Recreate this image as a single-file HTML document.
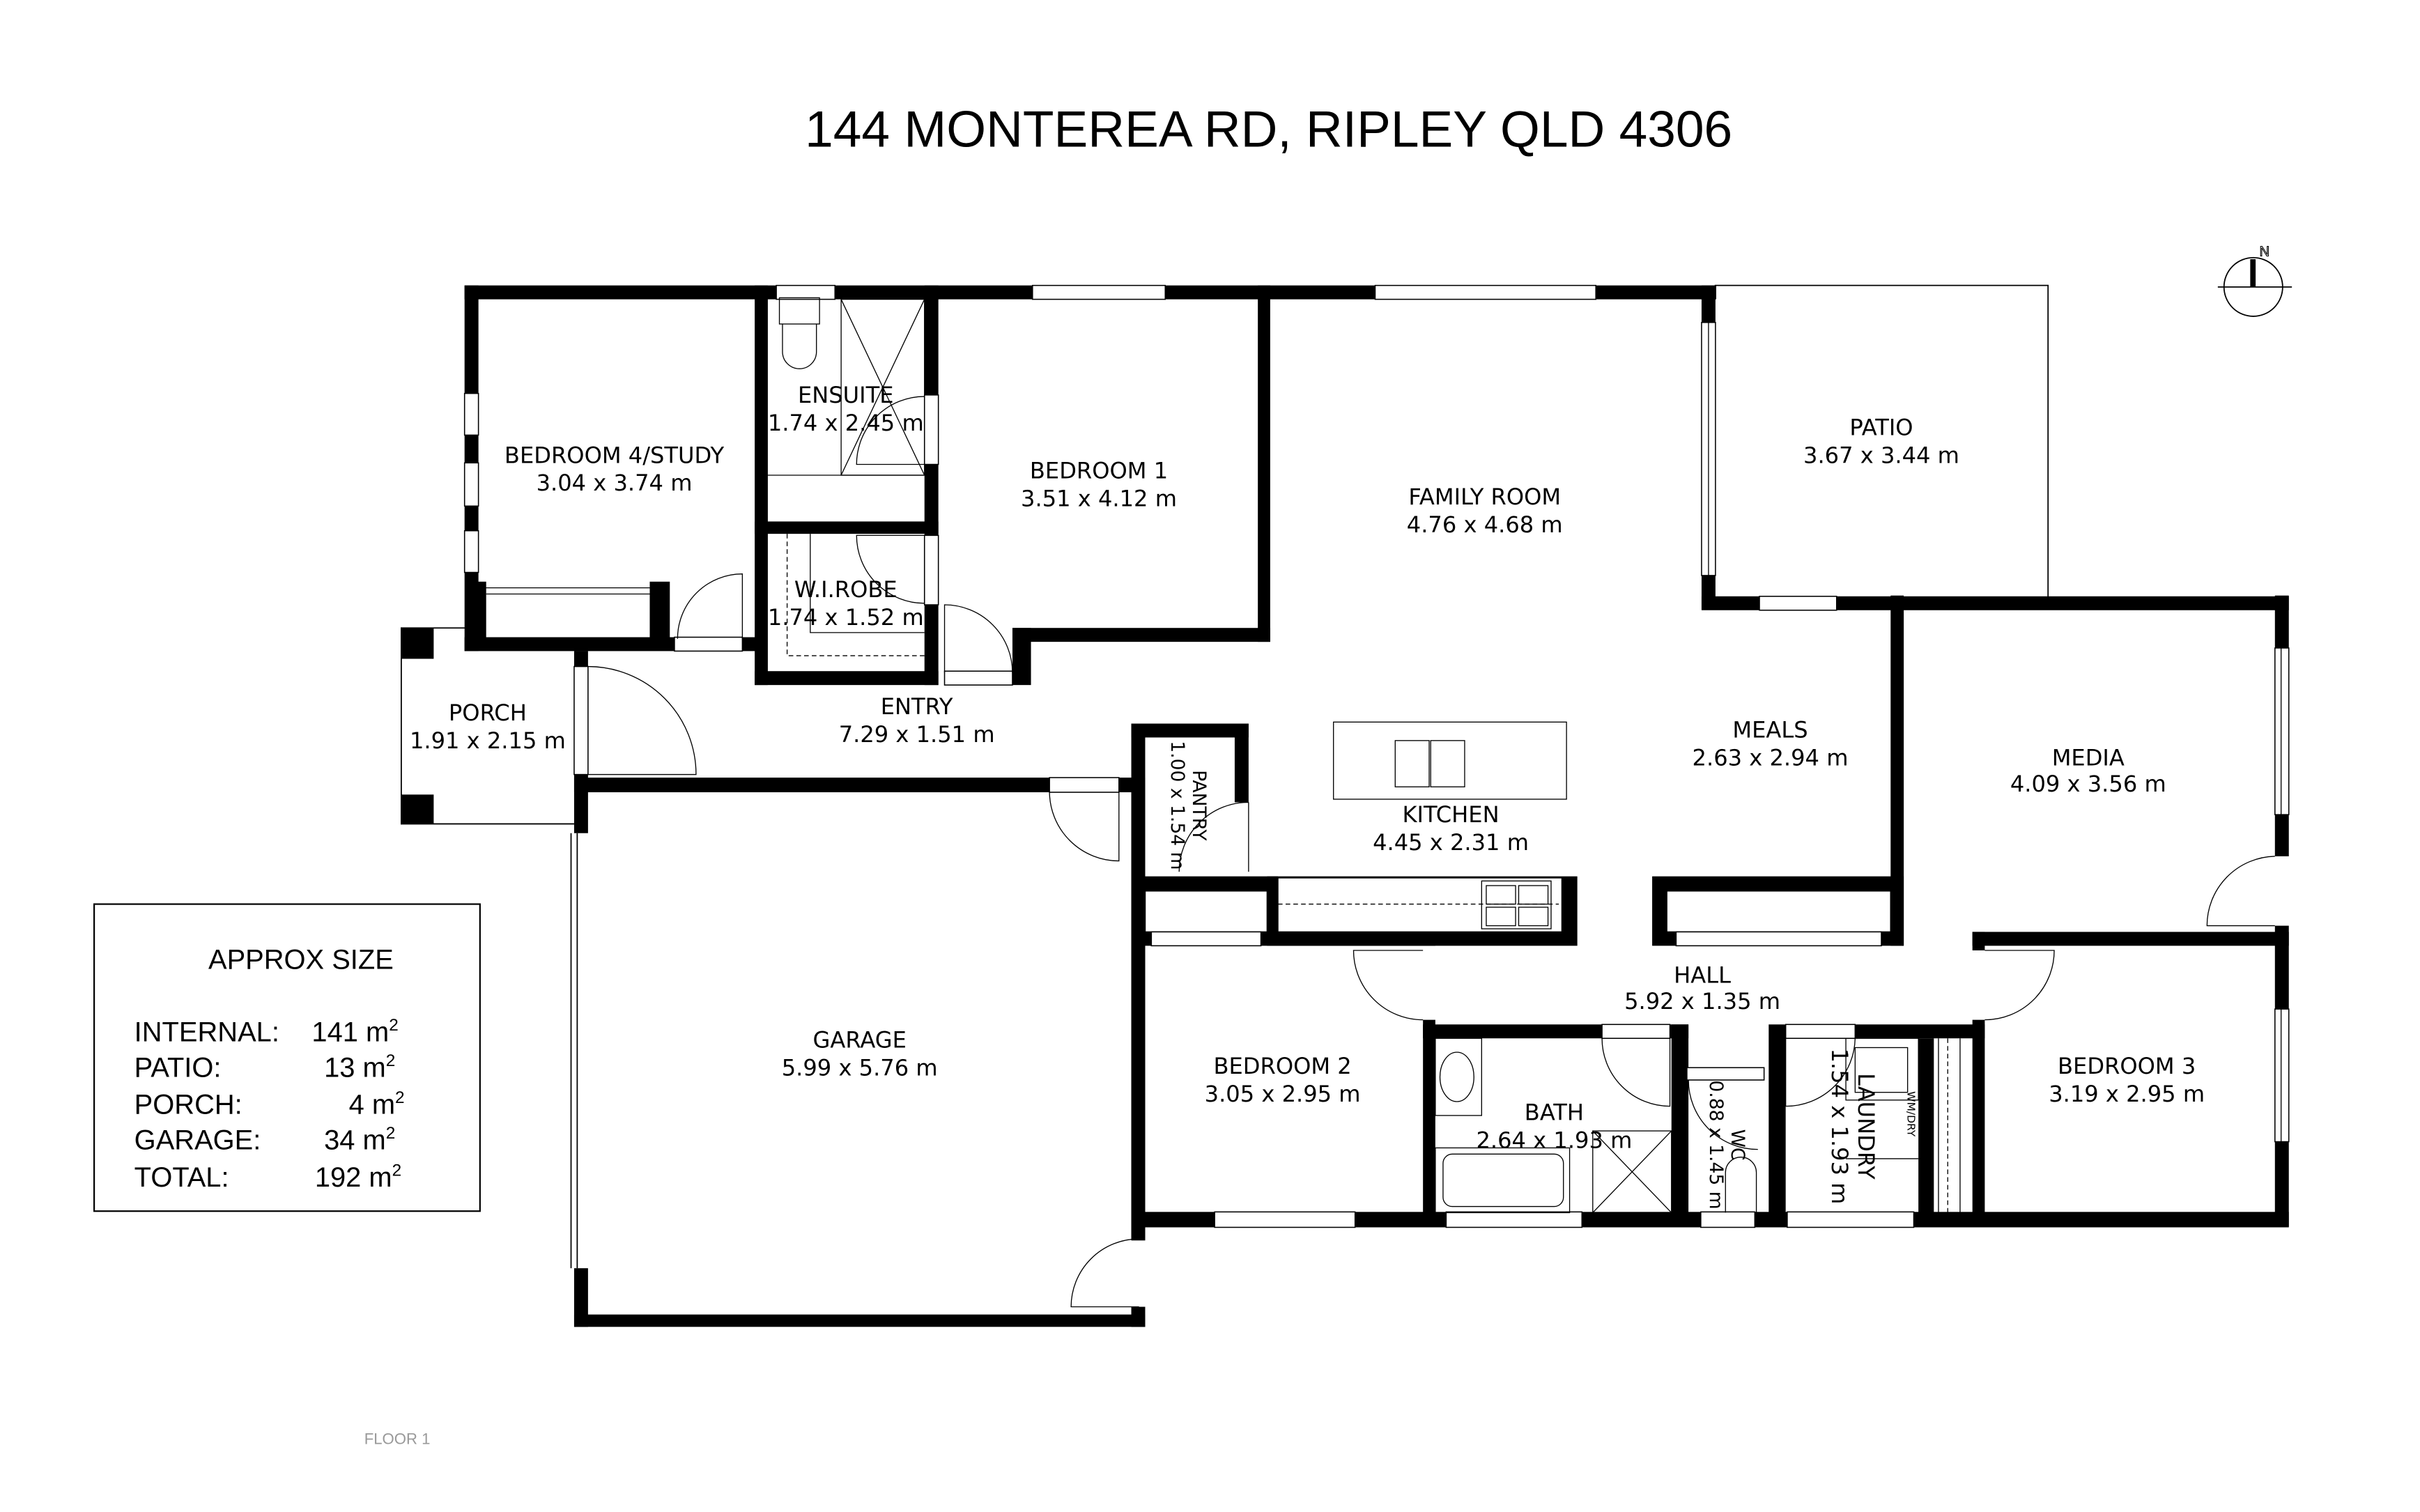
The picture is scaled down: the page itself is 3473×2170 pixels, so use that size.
<!DOCTYPE html>
<html><head><meta charset="utf-8"><style>
html,body{margin:0;padding:0;background:#fff}
svg{display:block}
.l{font-family:"DejaVu Sans","Liberation Sans",sans-serif;font-size:14.5px;fill:#000;text-anchor:middle}
.t{font-family:"Liberation Sans",sans-serif;fill:#000}
</style></head><body>
<svg xmlns="http://www.w3.org/2000/svg" width="3473" height="2170" viewBox="0 0 1568 980" preserveAspectRatio="none">
<rect width="1568" height="980" fill="#fff"/>
<text x="822" y="95" class="t" style="font-size:33px" text-anchor="middle">144 MONTEREA RD, RIPLEY QLD 4306</text>

<!-- compass -->
<g stroke="#000" fill="none" stroke-width="0.8">
<circle cx="1460" cy="186" r="19"/>
<line x1="1437" y1="186" x2="1485" y2="186"/>
</g>
<rect x="1458" y="168" width="3.5" height="18" fill="#000"/>
<text x="1464" y="166" style="font-family:'Liberation Sans',sans-serif;font-size:9px" fill="none" stroke="#000" stroke-width="0.5">N</text>

<g fill="none" stroke="#000" stroke-width="0.8">
<polyline points="1111,185 1327,185 1327,387"/>
<polyline points="302,407 260,407 260,534 372,534"/>
<line x1="370" y1="540" x2="370" y2="822"/>
<line x1="374" y1="540" x2="374" y2="822"/>
</g>

<g fill="#000">
<rect x="301" y="185" width="811" height="9"/>
<rect x="301" y="185" width="9" height="237"/>
<rect x="309" y="377" width="6" height="37"/>
<rect x="421" y="377" width="13" height="37"/>
<rect x="301" y="413" width="136" height="9"/>
<rect x="481" y="413" width="16" height="9"/>
<rect x="489" y="185" width="8.5" height="259"/>
<rect x="599" y="185" width="9" height="71"/>
<rect x="599" y="301" width="9" height="46"/>
<rect x="599" y="392" width="9" height="52"/>
<rect x="489" y="338" width="119" height="8"/>
<rect x="489" y="435" width="119" height="9"/>
<rect x="656" y="407" width="12" height="37"/>
<rect x="656" y="407" width="167" height="9"/>
<rect x="815" y="185" width="8" height="231"/>
<rect x="1102.5" y="185" width="9" height="24"/>
<rect x="1102.5" y="373" width="9" height="22"/>
<rect x="1102.5" y="386.5" width="38" height="9"/>
<rect x="1190" y="386.5" width="293" height="9"/>
<rect x="1225" y="386" width="8.5" height="227"/>
<rect x="1474" y="386" width="9" height="34"/>
<rect x="1474" y="528" width="9" height="27"/>
<rect x="1474" y="600" width="9" height="54"/>
<rect x="1474" y="740" width="9" height="55"/>
<rect x="1278" y="604" width="205" height="9"/>
<rect x="1070.5" y="568" width="163" height="45"/>
<rect x="1278" y="604" width="8" height="12"/>
<rect x="1278" y="661" width="8" height="134"/>
<rect x="733" y="785.5" width="54" height="10"/>
<rect x="878" y="785.5" width="59" height="10"/>
<rect x="1025" y="785.5" width="77" height="10"/>
<rect x="1137" y="785.5" width="21" height="10"/>
<rect x="1240" y="785.5" width="243" height="10"/>
<rect x="922" y="661" width="8" height="134"/>
<rect x="922" y="664" width="116" height="9"/>
<rect x="1082" y="664" width="12" height="9"/>
<rect x="1083" y="664" width="11" height="131"/>
<rect x="1146" y="664" width="11" height="131"/>
<rect x="1202" y="664" width="84" height="9"/>
<rect x="1243" y="673" width="10" height="113"/>
<rect x="733" y="469" width="9" height="335"/>
<rect x="733" y="469" width="76" height="9"/>
<rect x="800" y="469" width="9" height="51"/>
<rect x="733" y="568" width="95" height="9.5"/>
<rect x="733" y="604" width="197" height="9"/>
<rect x="821" y="568" width="201" height="45"/>
<rect x="372" y="422" width="9" height="10"/>
<rect x="372" y="502" width="9" height="38"/>
<rect x="372" y="504" width="308" height="9.5"/>
<rect x="725" y="504" width="17" height="9.5"/>
<rect x="372" y="822" width="9" height="38"/>
<rect x="372" y="852" width="370" height="8"/>
<rect x="733" y="513" width="9" height="290"/>
<rect x="733" y="847" width="9" height="13"/>
<rect x="260" y="407" width="21" height="20"/>
<rect x="260" y="515" width="21" height="19"/>
</g>

<g fill="#fff" stroke="#000" stroke-width="0.7">
<rect x="742" y="577.5" width="79" height="26.5"/>
<rect x="828" y="569" width="184" height="35"/>
<rect x="1080" y="577.5" width="145" height="26.5"/>
</g>
<line x1="828" y1="586" x2="1010" y2="586" stroke="#000" stroke-width="0.6" stroke-dasharray="3,2"/>

<g fill="#fff" stroke="#000" stroke-width="0.7">
<rect x="503" y="185" width="38" height="9"/>
<rect x="669" y="185" width="86" height="9"/>
<rect x="891" y="185" width="143" height="9"/>
<rect x="301" y="255" width="9" height="27"/>
<rect x="301" y="300" width="9" height="28"/>
<rect x="301" y="344" width="9" height="27"/>
<rect x="599" y="256" width="9" height="45"/>
<rect x="599" y="347" width="9" height="45"/>
<rect x="1102.5" y="209" width="9" height="164"/>
<rect x="1140" y="386.5" width="50" height="9"/>
<rect x="1474" y="420" width="9" height="108"/>
<rect x="1474" y="654" width="9" height="86"/>
<rect x="787" y="785.5" width="91" height="10"/>
<rect x="937" y="785.5" width="88" height="10"/>
<rect x="1102" y="785.5" width="35" height="10"/>
<rect x="1158" y="785.5" width="82" height="10"/>
<rect x="372" y="432" width="9" height="70"/>
<rect x="1086" y="604" width="133" height="9"/>
<rect x="746" y="604" width="71" height="9"/>
<rect x="437" y="413" width="44" height="9"/>
<rect x="612" y="435" width="44" height="9"/>
<rect x="680" y="504" width="45" height="9.5"/>
<rect x="1038" y="664" width="44" height="9"/>
<rect x="1157" y="664" width="45" height="9"/>
<rect x="1093" y="692" width="50" height="8"/>
</g>
<g fill="none" stroke="#000" stroke-width="0.6">
<line x1="310" y1="381" x2="421" y2="381"/>
<line x1="315" y1="385" x2="421" y2="385"/>
<line x1="1107" y1="209" x2="1107" y2="373"/>
<line x1="1478" y1="420" x2="1478" y2="528"/>
<line x1="1478" y1="654" x2="1478" y2="740"/>
<line x1="1256" y1="673" x2="1256" y2="786"/>
<line x1="1262" y1="673" x2="1262" y2="786" stroke-dasharray="3,2"/>
<line x1="1270" y1="673" x2="1270" y2="786"/>
<polyline points="510,346 510,425 599,425" stroke-dasharray="3,2"/>
<polyline points="525,346 525,410 599,410"/>
<line x1="497" y1="308" x2="599" y2="308"/>
<path d="M481,414 L481,372 A42,42 0 0 0 439,414"/>
<path d="M599,301 L555,301 A44,44 0 0 1 599,257"/>
<path d="M599,347 L555,347 A44,44 0 0 0 599,391"/>
<path d="M612,436 L612,392 A44,44 0 0 1 656,436"/>
<path d="M381,502 L451,502 A70,70 0 0 0 381,432"/>
<path d="M725,513 L725,558 A45,45 0 0 1 680,513"/>
<path d="M738,847 L694,847 A44,44 0 0 1 738,803"/>
<path d="M809,520 L809,565 M809,520 A45,45 0 0 0 764,565"/>
<path d="M922,616 L877,616 A45,45 0 0 0 922,661"/>
<path d="M1082,673 L1082,717 A44,44 0 0 1 1038,673"/>
<path d="M1157,673 L1157,717 A45,45 0 0 0 1202,673"/>
<path d="M1286,616 L1331,616 A45,45 0 0 1 1286,661"/>
<path d="M1474,600 L1430,600 A45,45 0 0 1 1474,555"/>
<path d="M1094,700 A45,45 0 0 0 1139,745"/>
<path d="M507,210 L507,228 A11,11 0 0 0 529,228 L529,210"/>
<rect x="505" y="193" width="26" height="17"/>
<rect x="545" y="194" width="54" height="114"/>
<line x1="545" y1="194" x2="599" y2="308"/>
<line x1="599" y1="194" x2="545" y2="308"/>
<rect x="864" y="468" width="151" height="50"/>
<rect x="904" y="480" width="22" height="30"/>
<rect x="927" y="480" width="22" height="30"/>
<rect x="960" y="571" width="45" height="31"/>
<rect x="963" y="574" width="19" height="12"/><rect x="984" y="574" width="19" height="12"/>
<rect x="963" y="588" width="19" height="12"/><rect x="984" y="588" width="19" height="12"/>
<rect x="930" y="673" width="30" height="50"/>
<ellipse cx="944" cy="698" rx="11" ry="16"/>
<rect x="930" y="744" width="87" height="42"/>
<rect x="935" y="748" width="78" height="34" rx="6"/>
<rect x="1032" y="733" width="51" height="53"/>
<line x1="1032" y1="733" x2="1083" y2="786"/>
<line x1="1083" y1="733" x2="1032" y2="786"/>
<path d="M1118,786 L1118,760 A10,10 0 0 1 1138,760 L1138,786"/>
<rect x="1196" y="673" width="47" height="40"/>
<rect x="1202" y="679" width="34" height="29"/>
<line x1="1196" y1="751" x2="1243" y2="751"/>
</g>

<text class="l" x="398" y="300">BEDROOM 4/STUDY</text><text class="l" x="398" y="318">3.04 x 3.74 m</text>
<text class="l" x="548" y="261">ENSUITE</text><text class="l" x="548" y="279">1.74 x 2.45 m</text>
<text class="l" x="712" y="310">BEDROOM 1</text><text class="l" x="712" y="328">3.51 x 4.12 m</text>
<text class="l" x="962" y="327">FAMILY ROOM</text><text class="l" x="962" y="345">4.76 x 4.68 m</text>
<text class="l" x="1219" y="282">PATIO</text><text class="l" x="1219" y="300">3.67 x 3.44 m</text>
<text class="l" x="548" y="387">W.I.ROBE</text><text class="l" x="548" y="405">1.74 x 1.52 m</text>
<text class="l" x="316" y="467">PORCH</text><text class="l" x="316" y="485">1.91 x 2.15 m</text>
<text class="l" x="594" y="463">ENTRY</text><text class="l" x="594" y="481">7.29 x 1.51 m</text>
<text class="l" x="1147" y="478">MEALS</text><text class="l" x="1147" y="496">2.63 x 2.94 m</text>
<text class="l" x="1353" y="496">MEDIA</text><text class="l" x="1353" y="513">4.09 x 3.56 m</text>
<text class="l" x="940" y="533">KITCHEN</text><text class="l" x="940" y="551">4.45 x 2.31 m</text>
<text class="l" x="557" y="679">GARAGE</text><text class="l" x="557" y="697">5.99 x 5.76 m</text>
<text class="l" x="1103" y="637">HALL</text><text class="l" x="1103" y="654">5.92 x 1.35 m</text>
<text class="l" x="831" y="696">BEDROOM 2</text><text class="l" x="831" y="714">3.05 x 2.95 m</text>
<text class="l" x="1007" y="726">BATH</text><text class="l" x="1007" y="744">2.64 x 1.93 m</text>
<text class="l" x="1378" y="696">BEDROOM 3</text><text class="l" x="1378" y="714">3.19 x 2.95 m</text>
<g transform="translate(773,522) rotate(90)"><text class="l" x="0" y="0" style="font-size:12px">PANTRY</text><text class="l" x="0" y="14" style="font-size:12px">1.00 x 1.54 m</text></g>
<g transform="translate(1122,742) rotate(90)"><text class="l" x="0" y="0" style="font-size:12px">WC</text><text class="l" x="0" y="14" style="font-size:12px">0.88 x 1.45 m</text></g>
<g transform="translate(1204,730) rotate(90)"><text class="l" x="0" y="0">LAUNDRY</text><text class="l" x="0" y="17">1.54 x 1.93 m</text></g>
<g transform="translate(1236,722) rotate(90)"><text class="l" x="0" y="0" style="font-size:7px">WM/DRY</text></g>

<rect x="61" y="586" width="250" height="199" fill="none" stroke="#000" stroke-width="1"/>
<text x="195" y="628" class="t" style="font-size:18px" text-anchor="middle">APPROX SIZE</text>
<g class="t" style="font-size:18px">
<text x="87" y="675">INTERNAL:</text><text x="202" y="675">141 m<tspan style="font-size:11px" dy="-7">2</tspan></text>
<text x="87" y="698">PATIO:</text><text x="210" y="698">13 m<tspan style="font-size:11px" dy="-7">2</tspan></text>
<text x="87" y="722">PORCH:</text><text x="226" y="722">4 m<tspan style="font-size:11px" dy="-7">2</tspan></text>
<text x="87" y="745">GARAGE:</text><text x="210" y="745">34 m<tspan style="font-size:11px" dy="-7">2</tspan></text>
<text x="87" y="769">TOTAL:</text><text x="204" y="769">192 m<tspan style="font-size:11px" dy="-7">2</tspan></text>
</g>
<text x="236" y="936" style="font-family:'Liberation Sans',sans-serif;font-size:10px;fill:#999">FLOOR 1</text>
</svg>
</body></html>
